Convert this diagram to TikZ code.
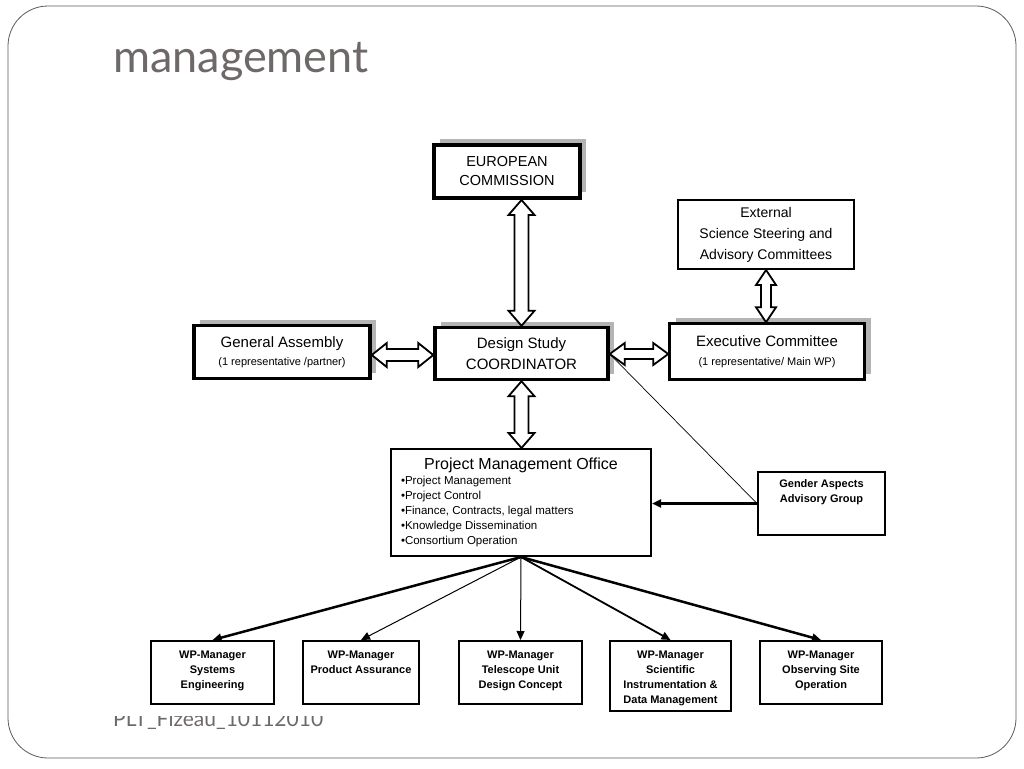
\documentclass[tikz,border=0pt]{standalone}
\usepackage{fontspec}
\setmainfont{Liberation Sans}
\newfontfamily\titlefont{Lato}
\usetikzlibrary{arrows.meta,positioning,calc,shadows}
\definecolor{slideGray}{RGB}{110,104,104}
\definecolor{frameGray}{RGB}{90,90,90}
\definecolor{shadowGray}{RGB}{180,180,180}

% hollow double arrow between two points: #1 #2 ends, #3 shaft half width, #4 head half width
\newcommand{\dblarrow}[4]{%
  \draw[hollow] (#1)
    -- ($(#1)!15pt!(#2)!#4!90:(#2)$) -- ($(#1)!15pt!(#2)!#3!90:(#2)$)
    -- ($(#2)!15pt!(#1)!#3!-90:(#1)$) -- ($(#2)!15pt!(#1)!#4!-90:(#1)$)
    -- (#2)
    -- ($(#2)!15pt!(#1)!#4!90:(#1)$) -- ($(#2)!15pt!(#1)!#3!90:(#1)$)
    -- ($(#1)!15pt!(#2)!#3!-90:(#2)$) -- ($(#1)!15pt!(#2)!#4!-90:(#2)$)
    -- cycle;}
\newcommand{\toptext}[2]{\parbox[c][#1][t]{108pt}{\centering #2}}

\begin{document}
\begin{tikzpicture}[x=1pt,y=-1pt,
  b/.style={draw,fill=white,align=center,inner sep=0pt,line width=2pt},
  shade/.style={drop shadow={shadow xshift=6pt,shadow yshift=6pt,fill=shadowGray,opacity=1}},
  tb/.style={draw,fill=white,inner xsep=3pt,inner ysep=10pt,line width=2pt,minimum height=63pt,font=\bfseries\fontsize{11}{15}\selectfont},
  hollow/.style={draw,fill=white,line width=1.8pt,line join=miter},
  arrow/.style={-{Triangle[length=9pt,width=8pt]}},
  slidetext/.style={anchor=base west,inner sep=0pt,text=slideGray}
]
  \useasboundingbox (0,0) rectangle (1024,768);
  \draw[frameGray,line width=0.8pt,rounded corners=40pt] (8,6) rectangle (1016,758);
  \node[slidetext,font=\titlefont\fontsize{45}{50}\selectfont] (title) at (113,72) {management};
  \node[slidetext,font=\titlefont\fontsize{21}{24}\selectfont] (footer) at (113,726) {PLT\_Fizeau\_10112010};
  \fill[white] (105,120) rectangle (905,716);

  % top level
  \node[b,shade,line width=4pt,minimum width=146pt,minimum height=53pt,
        font=\fontsize{14.5}{19}\selectfont] (ec) at (507,171.5) {EUROPEAN\\COMMISSION};
  \node[b,shade,line width=3.5pt,minimum width=176pt,minimum height=53pt,
        font=\fontsize{15}{18}\selectfont] (ga) at (282,352) {General Assembly\\{\fontsize{11}{13}\selectfont (1 representative /partner)}};
  \node[b,shade,line width=3.5pt,minimum width=173pt,minimum height=52pt,
        font=\fontsize{15}{21}\selectfont] (dsc) at (521.5,353.5) {Design Study\\COORDINATOR};
  \node[b,shade,line width=2.5pt,minimum width=195pt,minimum height=56pt,
        font=\fontsize{15}{19}\selectfont] (exec) at (767,351.5) {Executive Committee\\{\fontsize{11}{13}\selectfont (1 representative/ Main WP)}};
  \node[b,minimum width=176pt,minimum height=69pt,
        font=\fontsize{14}{21}\selectfont] (ext) at (766,234.5) {External\\Science Steering and\\Advisory Committees};

  % office and advisory group
  \node[b,minimum width=260pt,minimum height=107pt,inner sep=9pt] (pmo) at (521,502.5)
    {\parbox[c][89pt][t]{240pt}{{\centering\fontsize{16}{18}\selectfont Project Management Office\par}
      \raggedright\fontsize{11.5}{15}\selectfont
      •Project Management\\
      •Project Control\\
      •Finance, Contracts, legal matters\\
      •Knowledge Dissemination\\
      •Consortium Operation}};
  \node[tb,minimum width=127pt,inner ysep=8pt] (gender) at (821.5,503.5) {\toptext{47pt}{Gender Aspects\\Advisory Group}};

  % work packages
  \node[tb,minimum width=123pt] (wp1) at (212.5,672.5) {\toptext{43pt}{WP-Manager\\Systems\\Engineering}};
  \node[tb,minimum width=116pt] (wp2) at (361,672.5) {\toptext{43pt}{WP-Manager\\Product Assurance}};
  \node[tb,minimum width=123pt] (wp3) at (520.5,672.5) {\toptext{43pt}{WP-Manager\\Telescope Unit\\Design Concept}};
  \node[tb,minimum width=121pt,minimum height=70pt] (wp4) at (670.5,676) {\toptext{50pt}{WP-Manager\\Scientific\\Instrumentation \&\\Data Management}};
  \node[tb,minimum width=122pt] (wp5) at (821,672.5) {\toptext{43pt}{WP-Manager\\Observing Site\\Operation}};

  % hollow double arrows
  \coordinate (ecb) at (dsc.north |- ec.south);
  \coordinate (gar) at (dsc.west |- 0,355);
  \coordinate (gal) at (ga.east |- 0,355);
  \coordinate (exl) at (exec.west |- 0,354);
  \coordinate (dsr) at (dsc.east |- 0,354);
  \coordinate (exn) at (ext.south |- exec.north);
  \coordinate (pmn) at (dsc.south |- pmo.north);
  \dblarrow{ecb}{dsc.north}{7pt}{13pt}
  \dblarrow{gal}{gar}{6pt}{12pt}
  \dblarrow{dsr}{exl}{5pt}{11pt}
  \dblarrow{ext.south}{exn}{5pt}{10pt}
  \dblarrow{dsc.south}{pmn}{7pt}{13pt}

  % links
  \draw[line width=0.7pt] (gender.west) -- (dsr);
  \draw[arrow,line width=2.5pt] (gender.west) -- (gender.west -| pmo.east);
  \draw[arrow,line width=2.5pt] (pmo.south) -- (wp1.north);
  \draw[arrow,line width=1pt] (pmo.south) -- (wp2.north);
  \draw[arrow,line width=1pt] (pmo.south) -- (wp3.north);
  \draw[arrow,line width=1.8pt] (pmo.south) -- (wp4.north);
  \draw[arrow,line width=2.5pt] (pmo.south) -- (wp5.north);
\end{tikzpicture}
\end{document}
